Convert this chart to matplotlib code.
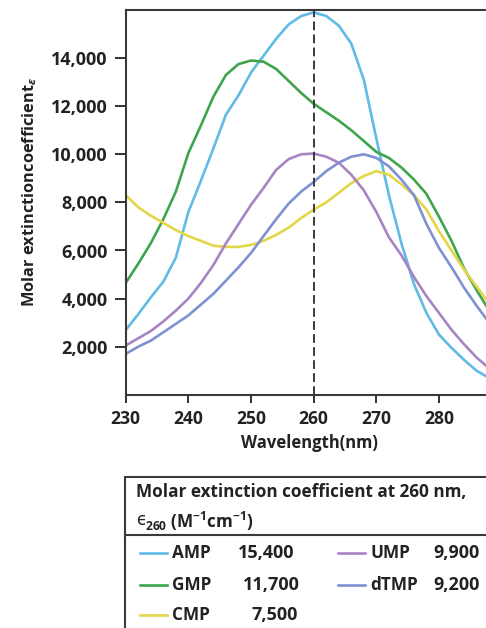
import matplotlib

matplotlib.use("Agg", force=True)
import matplotlib.pyplot as plt
from matplotlib.patches import Rectangle
from matplotlib.lines import Line2D
from matplotlib.ticker import FuncFormatter

plt.rcParams["font.family"] = ["Open Sans", "DejaVu Sans"]
plt.rcParams["font.weight"] = "bold"
plt.rcParams["mathtext.fontset"] = "custom"
plt.rcParams["mathtext.rm"] = "Open Sans:bold"
plt.rcParams["mathtext.it"] = "Open Sans:italic:bold"
plt.rcParams["mathtext.bf"] = "Open Sans:bold"

# wavelength grid (nm) and values
wavelength = [230, 232, 234, 236, 238, 240, 242, 244, 246, 248, 250, 252, 254, 256, 258,
              260, 262, 264, 266, 268, 270, 272, 274, 276, 278, 280, 282, 284, 286, 288, 290]
amp = [2690, 3350, 4050, 4700, 5700, 7600, 8900, 10250, 11650, 12450, 13400, 14100, 14800,
       15400, 15750, 15900, 15750, 15350, 14600, 13100, 10650, 8300, 6300, 4600, 3400, 2500,
       1950, 1450, 1000, 700, 450]
gmp = [4650, 5450, 6300, 7300, 8450, 10050, 11200, 12400, 13300, 13750, 13900, 13850, 13550,
       13050, 12550, 12100, 11750, 11400, 11000, 10550, 10100, 9850, 9450, 8950, 8350, 7400,
       6400, 5250, 4350, 3500, 3000]
cmp_ = [8300, 7800, 7450, 7150, 6850, 6600, 6400, 6200, 6150, 6150, 6230, 6400, 6650, 6950,
        7350, 7700, 8000, 8400, 8800, 9100, 9300, 9150, 8750, 8300, 7700, 6800, 6000, 5200,
        4500, 3800, 3300]
ump = [2050, 2350, 2650, 3050, 3500, 4000, 4650, 5400, 6300, 7100, 7900, 8600, 9350, 9800,
       10000, 10030, 9900, 9650, 9150, 8500, 7600, 6550, 5800, 4900, 4100, 3400, 2700, 2100,
       1550, 1100, 800]
dtmp = [1700, 2000, 2250, 2600, 2950, 3300, 3750, 4200, 4750, 5300, 5900, 6600, 7300, 7950,
        8450, 8850, 9300, 9650, 9900, 10000, 9850, 9500, 8950, 8300, 7100, 6100, 5300, 4450,
        3700, 3000, 2400]

names = ["AMP", "GMP", "CMP", "UMP", "dTMP"]
eps260 = ["15,400", "11,700", "7,500", "9,900", "9,200"]
colors = ["#60bbe5", "#3ea54c", "#e4d648", "#a884c4", "#7e91d2"]
series = [amp, gmp, cmp_, ump, dtmp]

TXT = "#222222"
fig = plt.figure(figsize=(4.86, 6.28), dpi=100)
ax = fig.add_axes([125.7 / 486, 1 - 394.8 / 628, 376 / 486, 384.8 / 628])

for vals, c in zip(series, colors):
    ax.plot(wavelength, vals, color=c, lw=1.9, solid_capstyle="round", solid_joinstyle="round")

ax.axvline(260, color="#3a3a3a", lw=1.4, ls=(0, (4.5, 2.2)), zorder=5)

ax.set_xlim(230, 290)
ax.set_ylim(0, 16000)
ax.set_xticks(range(230, 290, 10))
ax.set_yticks(range(2000, 16000, 2000))
ax.yaxis.set_major_formatter(FuncFormatter(lambda v, p: f"{int(v):,}"))
for s in ax.spines.values():
    s.set_color("#3a3a3a")
    s.set_linewidth(1.5)
ax.tick_params(axis="y", length=8, width=1.3, pad=5, labelsize=13, colors=TXT)
ax.tick_params(axis="x", length=6, width=1.3, pad=5, labelsize=12.6, colors=TXT)

fig.text(30 / 486, 1 - 192 / 628, r"Molar extinctioncoefficient$_{\it{\epsilon}}$",
         rotation=90, ha="center", va="center", fontsize=11.8, color=TXT)
fig.text(309 / 486, 1 - 443 / 628, "Wavelength(nm)", ha="center", va="center",
         fontsize=12, color=TXT)

# legend table
fig.patches.append(Rectangle((125 / 486, -0.05), 0.9, 0.05 + 1 - 477 / 628,
                             transform=fig.transFigure, fill=False,
                             edgecolor="#3a3a3a", lw=1.5))
fig.lines.append(Line2D([125 / 486, 1.1], [1 - 535 / 628] * 2, transform=fig.transFigure,
                        color="#3a3a3a", lw=1.5))
fig.text(136 / 486, 1 - 492 / 628, "Molar extinction coefficient at 260 nm,",
         ha="left", va="center", fontsize=12.3, color=TXT)
fig.text(136 / 486, 1 - 520 / 628, "ϵ", family="DejaVu Sans", weight="normal",
         ha="left", va="center", fontsize=12, color=TXT)
fig.text(145 / 486, 1 - 521 / 628, r"$_{260}$ (M$^{-1}$cm$^{-1}$)",
         ha="left", va="center", fontsize=12.3, color=TXT)

row_y = [553, 585, 615, 553, 585]
col_x = [140, 140, 140, 338, 338]
val_x = [266, 271, 275, 433, 433]
for name, v, c, ry, cx, vx in zip(names, eps260, colors, row_y, col_x, val_x):
    fy = 1 - ry / 628
    fig.lines.append(Line2D([cx / 486, (cx + 27) / 486], [fy, fy], transform=fig.transFigure,
                            color=c, lw=1.9))
    fig.text((cx + 32) / 486, fy, name, ha="left", va="center", fontsize=12.3, color=TXT)
    fig.text(vx / 486, fy, v, ha="center" if vx < 300 else "left", va="center",
             fontsize=13, color=TXT)

fig.savefig("out.png", dpi=100)
